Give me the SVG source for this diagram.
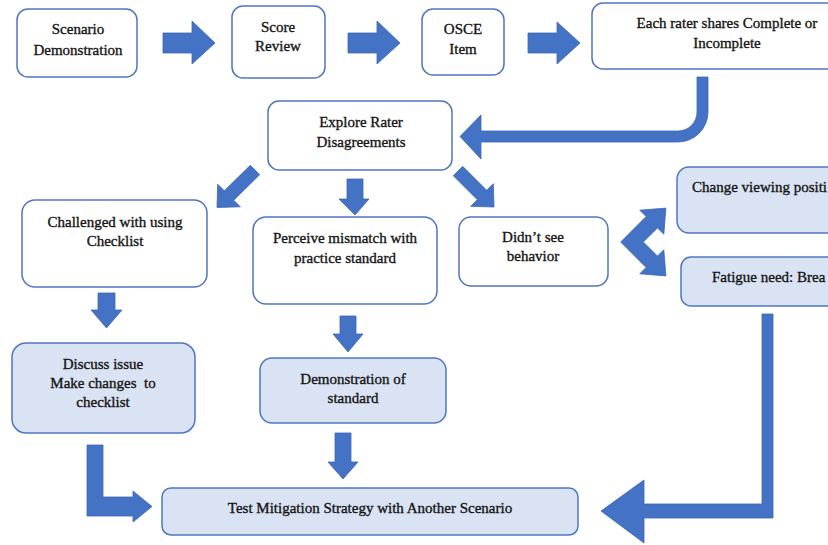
<svg xmlns="http://www.w3.org/2000/svg" width="828" height="545" viewBox="0 0 828 545">
<style>
.box{fill:#ffffff;stroke:#4f76c2;stroke-width:1.5}
.lt{fill:#dae3f3;stroke:#4f76c2;stroke-width:1.5}
.arr{fill:#4472c4;stroke:#3d67b5;stroke-width:0.8;stroke-linejoin:miter}
text{font-family:"Liberation Serif","Times New Roman",serif;font-size:15px;fill:#151515;stroke:#151515;stroke-width:0.35}
.c{text-anchor:middle}
</style>
<rect width="828" height="545" fill="#ffffff"/>
<g id="connectors">
<path class="arr" d="M163,33 H192 V21 L215,43 L192,64 V53 H163 Z"/>
<path class="arr" d="M348,33 H377 V21 L400,43 L377,64 V53 H348 Z"/>
<path class="arr" d="M528,33 H557 V22 L580,43 L557,64 V53 H528 Z"/>
<path class="arr" d="M697,77 H708 V112 A30,30 0 0 1 678,142 H481 V159 L460,136.5 L481,115 V131 H678 A19,19 0 0 0 697,112 Z"/>
<path class="arr" d="M250.3,165.3 L224.3,190.8 L217.7,184.2 L217,207.5 L240.3,206.8 L233.7,200.2 L259.7,174.7 Z"/>
<path class="arr" d="M347,179 H363 V199 H369 L355,215 L339,199 H347 Z"/>
<path class="arr" d="M462.7,166.3 L486.7,190.3 L493.3,183.7 L494,207 L470.7,206.3 L477.3,199.7 L453.3,175.7 Z"/>
<path class="arr" d="M620.7,242 L646.1,216.5 L639.8,210.2 L665.9,208.1 L663.8,234.2 L657.5,227.9 L643.3,242 L657.5,256.1 L663.8,249.8 L665.9,275.9 L639.8,273.8 L646.1,267.5 Z"/>
<path class="arr" d="M98,293 H115 V310 H122 L106.5,328 L91,310 H98 Z"/>
<path class="arr" d="M340,316 H356 V334 H363 L348,352 L333,334 H340 Z"/>
<path class="arr" d="M335,433 H351 V462 H358 L343,479 L328,462 H335 Z"/>
<path class="arr" d="M87,445 H103 V497 H133 V491 L152,506.5 L133,522 V516 H87 Z"/>
<path class="arr" d="M762,314 H773 V518 H644 V543 L601,511 L644,480 V504 H762 Z"/>
</g>
<g id="scenario-demo">
<rect class="box" x="17" y="9" width="120" height="68" rx="11"/>
<text class="c" x="78" y="34">Scenario</text>
<text class="c" x="78" y="55">Demonstration</text>
</g>
<g id="score-review">
<rect class="box" x="232" y="6" width="93" height="72" rx="11"/>
<text class="c" x="278" y="32">Score</text>
<text class="c" x="278" y="51">Review</text>
</g>
<g id="osce-item">
<rect class="box" x="422" y="9" width="82" height="66" rx="11"/>
<text class="c" x="463" y="34">OSCE</text>
<text class="c" x="463" y="54">Item</text>
</g>
<g id="each-rater">
<rect class="box" x="592" y="3" width="250" height="66" rx="11"/>
<text class="c" x="727" y="28">Each rater shares Complete or</text>
<text class="c" x="727" y="48">Incomplete</text>
</g>
<g id="explore">
<rect class="box" x="268" y="101" width="184" height="69" rx="11"/>
<text class="c" x="361" y="127">Explore Rater</text>
<text class="c" x="361" y="147">Disagreements</text>
</g>
<g id="challenged">
<rect class="box" x="22" y="200" width="185" height="87" rx="13"/>
<text class="c" x="115" y="227">Challenged with using</text>
<text class="c" x="115" y="246">Checklist</text>
</g>
<g id="perceive">
<rect class="box" x="253" y="217" width="184" height="87" rx="13"/>
<text class="c" x="345" y="243">Perceive mismatch with</text>
<text class="c" x="345" y="263">practice standard</text>
</g>
<g id="didnt-see">
<rect class="box" x="459" y="217" width="149" height="69" rx="12"/>
<text class="c" x="533" y="242">Didn’t see</text>
<text class="c" x="533" y="261">behavior</text>
</g>
<g id="change-viewing">
<rect class="lt" x="677" y="167" width="170" height="66" rx="12"/>
<text x="692" y="192">Change viewing positi</text>
</g>
<g id="fatigue">
<rect class="lt" x="681" y="257" width="170" height="49" rx="10"/>
<text x="712" y="282">Fatigue need: Brea</text>
</g>
<g id="discuss">
<rect class="lt" x="12" y="343" width="183" height="90" rx="14"/>
<text class="c" x="103" y="369">Discuss issue</text>
<text class="c" x="103" y="388" style="white-space:pre">Make changes  to</text>
<text class="c" x="103" y="407">checklist</text>
</g>
<g id="demonstration">
<rect class="lt" x="260" y="358" width="186" height="65" rx="12"/>
<text class="c" x="353" y="384">Demonstration of</text>
<text class="c" x="353" y="403">standard</text>
</g>
<g id="test-mitigation">
<rect class="lt" x="162" y="488" width="416" height="47" rx="9"/>
<text class="c" x="370" y="513">Test Mitigation Strategy with Another Scenario</text>
</g>
</svg>
